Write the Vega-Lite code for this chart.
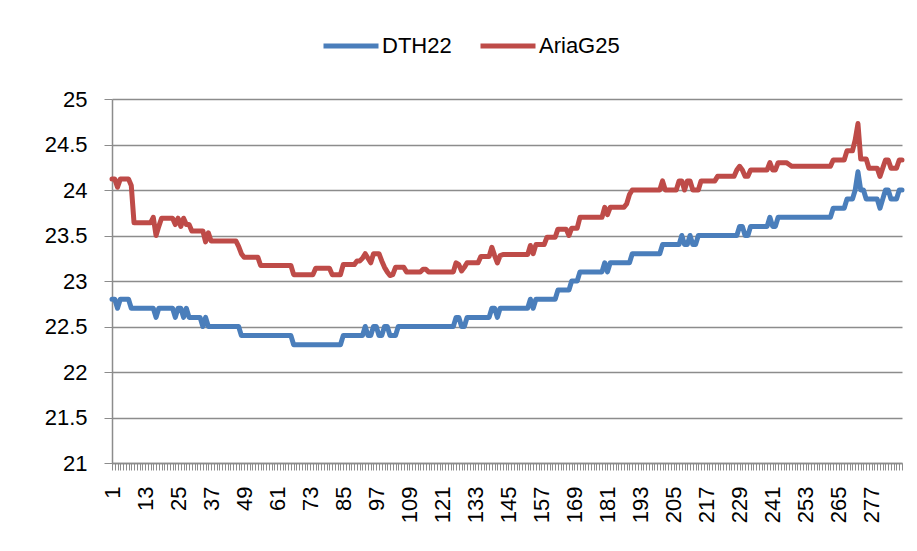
{
  "$schema": "https://vega.github.io/schema/vega-lite/v6.json",
  "autosize": "none",
  "width": 790,
  "height": 364,
  "padding": {"left": 112, "top": 99, "right": 15, "bottom": 88},
  "background": "white",
  "config": {
    "view": {"stroke": null},
    "font": "Liberation Sans",
    "axis": {"labelFont": "Liberation Sans", "labelColor": "#000000", "labelFontSize": 22}
  },
  "data": {"values": [
{"i":1,"DTH22":22.8,"AriaG25":24.12},{"i":2,"DTH22":22.8,"AriaG25":24.12},{"i":3,"DTH22":22.7,"AriaG25":24.03},{"i":4,"DTH22":22.8,"AriaG25":24.12},{"i":5,"DTH22":22.8,"AriaG25":24.12},{"i":6,"DTH22":22.8,"AriaG25":24.12},{"i":7,"DTH22":22.8,"AriaG25":24.12},{"i":8,"DTH22":22.7,"AriaG25":24.05},{"i":9,"DTH22":22.7,"AriaG25":23.64},{"i":10,"DTH22":22.7,"AriaG25":23.64},
{"i":11,"DTH22":22.7,"AriaG25":23.64},{"i":12,"DTH22":22.7,"AriaG25":23.64},{"i":13,"DTH22":22.7,"AriaG25":23.64},{"i":14,"DTH22":22.7,"AriaG25":23.64},{"i":15,"DTH22":22.7,"AriaG25":23.64},{"i":16,"DTH22":22.7,"AriaG25":23.7},{"i":17,"DTH22":22.6,"AriaG25":23.5},{"i":18,"DTH22":22.7,"AriaG25":23.6},{"i":19,"DTH22":22.7,"AriaG25":23.69},{"i":20,"DTH22":22.7,"AriaG25":23.69},
{"i":21,"DTH22":22.7,"AriaG25":23.69},{"i":22,"DTH22":22.7,"AriaG25":23.69},{"i":23,"DTH22":22.7,"AriaG25":23.69},{"i":24,"DTH22":22.6,"AriaG25":23.62},{"i":25,"DTH22":22.7,"AriaG25":23.69},{"i":26,"DTH22":22.7,"AriaG25":23.6},{"i":27,"DTH22":22.6,"AriaG25":23.69},{"i":28,"DTH22":22.7,"AriaG25":23.62},{"i":29,"DTH22":22.6,"AriaG25":23.62},{"i":30,"DTH22":22.6,"AriaG25":23.55},
{"i":31,"DTH22":22.6,"AriaG25":23.55},{"i":32,"DTH22":22.6,"AriaG25":23.55},{"i":33,"DTH22":22.6,"AriaG25":23.55},{"i":34,"DTH22":22.5,"AriaG25":23.55},{"i":35,"DTH22":22.6,"AriaG25":23.43},{"i":36,"DTH22":22.5,"AriaG25":23.53},{"i":37,"DTH22":22.5,"AriaG25":23.44},{"i":38,"DTH22":22.5,"AriaG25":23.44},{"i":39,"DTH22":22.5,"AriaG25":23.44},{"i":40,"DTH22":22.5,"AriaG25":23.44},
{"i":41,"DTH22":22.5,"AriaG25":23.44},{"i":42,"DTH22":22.5,"AriaG25":23.44},{"i":43,"DTH22":22.5,"AriaG25":23.44},{"i":44,"DTH22":22.5,"AriaG25":23.44},{"i":45,"DTH22":22.5,"AriaG25":23.44},{"i":46,"DTH22":22.5,"AriaG25":23.44},{"i":47,"DTH22":22.5,"AriaG25":23.38},{"i":48,"DTH22":22.4,"AriaG25":23.3},{"i":49,"DTH22":22.4,"AriaG25":23.26},{"i":50,"DTH22":22.4,"AriaG25":23.26},
{"i":51,"DTH22":22.4,"AriaG25":23.26},{"i":52,"DTH22":22.4,"AriaG25":23.26},{"i":53,"DTH22":22.4,"AriaG25":23.26},{"i":54,"DTH22":22.4,"AriaG25":23.26},{"i":55,"DTH22":22.4,"AriaG25":23.17},{"i":56,"DTH22":22.4,"AriaG25":23.17},{"i":57,"DTH22":22.4,"AriaG25":23.17},{"i":58,"DTH22":22.4,"AriaG25":23.17},{"i":59,"DTH22":22.4,"AriaG25":23.17},{"i":60,"DTH22":22.4,"AriaG25":23.17},
{"i":61,"DTH22":22.4,"AriaG25":23.17},{"i":62,"DTH22":22.4,"AriaG25":23.17},{"i":63,"DTH22":22.4,"AriaG25":23.17},{"i":64,"DTH22":22.4,"AriaG25":23.17},{"i":65,"DTH22":22.4,"AriaG25":23.17},{"i":66,"DTH22":22.4,"AriaG25":23.17},{"i":67,"DTH22":22.3,"AriaG25":23.07},{"i":68,"DTH22":22.3,"AriaG25":23.07},{"i":69,"DTH22":22.3,"AriaG25":23.07},{"i":70,"DTH22":22.3,"AriaG25":23.07},
{"i":71,"DTH22":22.3,"AriaG25":23.07},{"i":72,"DTH22":22.3,"AriaG25":23.07},{"i":73,"DTH22":22.3,"AriaG25":23.07},{"i":74,"DTH22":22.3,"AriaG25":23.07},{"i":75,"DTH22":22.3,"AriaG25":23.14},{"i":76,"DTH22":22.3,"AriaG25":23.14},{"i":77,"DTH22":22.3,"AriaG25":23.14},{"i":78,"DTH22":22.3,"AriaG25":23.14},{"i":79,"DTH22":22.3,"AriaG25":23.14},{"i":80,"DTH22":22.3,"AriaG25":23.14},
{"i":81,"DTH22":22.3,"AriaG25":23.07},{"i":82,"DTH22":22.3,"AriaG25":23.07},{"i":83,"DTH22":22.3,"AriaG25":23.07},{"i":84,"DTH22":22.3,"AriaG25":23.07},{"i":85,"DTH22":22.4,"AriaG25":23.18},{"i":86,"DTH22":22.4,"AriaG25":23.18},{"i":87,"DTH22":22.4,"AriaG25":23.18},{"i":88,"DTH22":22.4,"AriaG25":23.18},{"i":89,"DTH22":22.4,"AriaG25":23.18},{"i":90,"DTH22":22.4,"AriaG25":23.22},
{"i":91,"DTH22":22.4,"AriaG25":23.22},{"i":92,"DTH22":22.4,"AriaG25":23.25},{"i":93,"DTH22":22.5,"AriaG25":23.3},{"i":94,"DTH22":22.4,"AriaG25":23.25},{"i":95,"DTH22":22.4,"AriaG25":23.2},{"i":96,"DTH22":22.5,"AriaG25":23.3},{"i":97,"DTH22":22.5,"AriaG25":23.3},{"i":98,"DTH22":22.4,"AriaG25":23.3},{"i":99,"DTH22":22.4,"AriaG25":23.22},{"i":100,"DTH22":22.5,"AriaG25":23.15},
{"i":101,"DTH22":22.5,"AriaG25":23.1},{"i":102,"DTH22":22.4,"AriaG25":23.06},{"i":103,"DTH22":22.4,"AriaG25":23.07},{"i":104,"DTH22":22.4,"AriaG25":23.15},{"i":105,"DTH22":22.5,"AriaG25":23.15},{"i":106,"DTH22":22.5,"AriaG25":23.15},{"i":107,"DTH22":22.5,"AriaG25":23.15},{"i":108,"DTH22":22.5,"AriaG25":23.1},{"i":109,"DTH22":22.5,"AriaG25":23.1},{"i":110,"DTH22":22.5,"AriaG25":23.1},
{"i":111,"DTH22":22.5,"AriaG25":23.1},{"i":112,"DTH22":22.5,"AriaG25":23.1},{"i":113,"DTH22":22.5,"AriaG25":23.1},{"i":114,"DTH22":22.5,"AriaG25":23.13},{"i":115,"DTH22":22.5,"AriaG25":23.13},{"i":116,"DTH22":22.5,"AriaG25":23.1},{"i":117,"DTH22":22.5,"AriaG25":23.1},{"i":118,"DTH22":22.5,"AriaG25":23.1},{"i":119,"DTH22":22.5,"AriaG25":23.1},{"i":120,"DTH22":22.5,"AriaG25":23.1},
{"i":121,"DTH22":22.5,"AriaG25":23.1},{"i":122,"DTH22":22.5,"AriaG25":23.1},{"i":123,"DTH22":22.5,"AriaG25":23.1},{"i":124,"DTH22":22.5,"AriaG25":23.1},{"i":125,"DTH22":22.5,"AriaG25":23.1},{"i":126,"DTH22":22.6,"AriaG25":23.2},{"i":127,"DTH22":22.6,"AriaG25":23.18},{"i":128,"DTH22":22.5,"AriaG25":23.11},{"i":129,"DTH22":22.5,"AriaG25":23.15},{"i":130,"DTH22":22.6,"AriaG25":23.2},
{"i":131,"DTH22":22.6,"AriaG25":23.2},{"i":132,"DTH22":22.6,"AriaG25":23.2},{"i":133,"DTH22":22.6,"AriaG25":23.2},{"i":134,"DTH22":22.6,"AriaG25":23.2},{"i":135,"DTH22":22.6,"AriaG25":23.27},{"i":136,"DTH22":22.6,"AriaG25":23.27},{"i":137,"DTH22":22.6,"AriaG25":23.27},{"i":138,"DTH22":22.6,"AriaG25":23.27},{"i":139,"DTH22":22.7,"AriaG25":23.37},{"i":140,"DTH22":22.7,"AriaG25":23.28},
{"i":141,"DTH22":22.6,"AriaG25":23.2},{"i":142,"DTH22":22.7,"AriaG25":23.28},{"i":143,"DTH22":22.7,"AriaG25":23.29},{"i":144,"DTH22":22.7,"AriaG25":23.29},{"i":145,"DTH22":22.7,"AriaG25":23.29},{"i":146,"DTH22":22.7,"AriaG25":23.29},{"i":147,"DTH22":22.7,"AriaG25":23.29},{"i":148,"DTH22":22.7,"AriaG25":23.29},{"i":149,"DTH22":22.7,"AriaG25":23.29},{"i":150,"DTH22":22.7,"AriaG25":23.29},
{"i":151,"DTH22":22.7,"AriaG25":23.29},{"i":152,"DTH22":22.7,"AriaG25":23.29},{"i":153,"DTH22":22.8,"AriaG25":23.39},{"i":154,"DTH22":22.7,"AriaG25":23.3},{"i":155,"DTH22":22.8,"AriaG25":23.4},{"i":156,"DTH22":22.8,"AriaG25":23.4},{"i":157,"DTH22":22.8,"AriaG25":23.4},{"i":158,"DTH22":22.8,"AriaG25":23.4},{"i":159,"DTH22":22.8,"AriaG25":23.48},{"i":160,"DTH22":22.8,"AriaG25":23.48},
{"i":161,"DTH22":22.8,"AriaG25":23.48},{"i":162,"DTH22":22.8,"AriaG25":23.48},{"i":163,"DTH22":22.9,"AriaG25":23.57},{"i":164,"DTH22":22.9,"AriaG25":23.57},{"i":165,"DTH22":22.9,"AriaG25":23.57},{"i":166,"DTH22":22.9,"AriaG25":23.57},{"i":167,"DTH22":22.9,"AriaG25":23.5},{"i":168,"DTH22":23.0,"AriaG25":23.58},{"i":169,"DTH22":23.0,"AriaG25":23.58},{"i":170,"DTH22":23.0,"AriaG25":23.58},
{"i":171,"DTH22":23.1,"AriaG25":23.7},{"i":172,"DTH22":23.1,"AriaG25":23.7},{"i":173,"DTH22":23.1,"AriaG25":23.7},{"i":174,"DTH22":23.1,"AriaG25":23.7},{"i":175,"DTH22":23.1,"AriaG25":23.7},{"i":176,"DTH22":23.1,"AriaG25":23.7},{"i":177,"DTH22":23.1,"AriaG25":23.7},{"i":178,"DTH22":23.1,"AriaG25":23.7},{"i":179,"DTH22":23.1,"AriaG25":23.7},{"i":180,"DTH22":23.2,"AriaG25":23.81},
{"i":181,"DTH22":23.1,"AriaG25":23.73},{"i":182,"DTH22":23.2,"AriaG25":23.81},{"i":183,"DTH22":23.2,"AriaG25":23.81},{"i":184,"DTH22":23.2,"AriaG25":23.81},{"i":185,"DTH22":23.2,"AriaG25":23.81},{"i":186,"DTH22":23.2,"AriaG25":23.81},{"i":187,"DTH22":23.2,"AriaG25":23.81},{"i":188,"DTH22":23.2,"AriaG25":23.85},{"i":189,"DTH22":23.2,"AriaG25":23.95},{"i":190,"DTH22":23.3,"AriaG25":24.0},
{"i":191,"DTH22":23.3,"AriaG25":24.0},{"i":192,"DTH22":23.3,"AriaG25":24.0},{"i":193,"DTH22":23.3,"AriaG25":24.0},{"i":194,"DTH22":23.3,"AriaG25":24.0},{"i":195,"DTH22":23.3,"AriaG25":24.0},{"i":196,"DTH22":23.3,"AriaG25":24.0},{"i":197,"DTH22":23.3,"AriaG25":24.0},{"i":198,"DTH22":23.3,"AriaG25":24.0},{"i":199,"DTH22":23.3,"AriaG25":24.0},{"i":200,"DTH22":23.3,"AriaG25":24.0},
{"i":201,"DTH22":23.4,"AriaG25":24.1},{"i":202,"DTH22":23.4,"AriaG25":24.0},{"i":203,"DTH22":23.4,"AriaG25":24.0},{"i":204,"DTH22":23.4,"AriaG25":24.0},{"i":205,"DTH22":23.4,"AriaG25":24.0},{"i":206,"DTH22":23.4,"AriaG25":24.0},{"i":207,"DTH22":23.4,"AriaG25":24.1},{"i":208,"DTH22":23.5,"AriaG25":24.1},{"i":209,"DTH22":23.4,"AriaG25":24.0},{"i":210,"DTH22":23.4,"AriaG25":24.1},
{"i":211,"DTH22":23.5,"AriaG25":24.1},{"i":212,"DTH22":23.4,"AriaG25":24.0},{"i":213,"DTH22":23.4,"AriaG25":24.0},{"i":214,"DTH22":23.5,"AriaG25":24.0},{"i":215,"DTH22":23.5,"AriaG25":24.1},{"i":216,"DTH22":23.5,"AriaG25":24.1},{"i":217,"DTH22":23.5,"AriaG25":24.1},{"i":218,"DTH22":23.5,"AriaG25":24.1},{"i":219,"DTH22":23.5,"AriaG25":24.1},{"i":220,"DTH22":23.5,"AriaG25":24.1},
{"i":221,"DTH22":23.5,"AriaG25":24.15},{"i":222,"DTH22":23.5,"AriaG25":24.15},{"i":223,"DTH22":23.5,"AriaG25":24.15},{"i":224,"DTH22":23.5,"AriaG25":24.15},{"i":225,"DTH22":23.5,"AriaG25":24.15},{"i":226,"DTH22":23.5,"AriaG25":24.15},{"i":227,"DTH22":23.5,"AriaG25":24.15},{"i":228,"DTH22":23.5,"AriaG25":24.22},{"i":229,"DTH22":23.6,"AriaG25":24.26},{"i":230,"DTH22":23.6,"AriaG25":24.22},
{"i":231,"DTH22":23.5,"AriaG25":24.15},{"i":232,"DTH22":23.5,"AriaG25":24.15},{"i":233,"DTH22":23.6,"AriaG25":24.22},{"i":234,"DTH22":23.6,"AriaG25":24.22},{"i":235,"DTH22":23.6,"AriaG25":24.22},{"i":236,"DTH22":23.6,"AriaG25":24.22},{"i":237,"DTH22":23.6,"AriaG25":24.22},{"i":238,"DTH22":23.6,"AriaG25":24.22},{"i":239,"DTH22":23.6,"AriaG25":24.22},{"i":240,"DTH22":23.7,"AriaG25":24.3},
{"i":241,"DTH22":23.6,"AriaG25":24.22},{"i":242,"DTH22":23.6,"AriaG25":24.22},{"i":243,"DTH22":23.7,"AriaG25":24.3},{"i":244,"DTH22":23.7,"AriaG25":24.3},{"i":245,"DTH22":23.7,"AriaG25":24.3},{"i":246,"DTH22":23.7,"AriaG25":24.3},{"i":247,"DTH22":23.7,"AriaG25":24.28},{"i":248,"DTH22":23.7,"AriaG25":24.26},{"i":249,"DTH22":23.7,"AriaG25":24.26},{"i":250,"DTH22":23.7,"AriaG25":24.26},
{"i":251,"DTH22":23.7,"AriaG25":24.26},{"i":252,"DTH22":23.7,"AriaG25":24.26},{"i":253,"DTH22":23.7,"AriaG25":24.26},{"i":254,"DTH22":23.7,"AriaG25":24.26},{"i":255,"DTH22":23.7,"AriaG25":24.26},{"i":256,"DTH22":23.7,"AriaG25":24.26},{"i":257,"DTH22":23.7,"AriaG25":24.26},{"i":258,"DTH22":23.7,"AriaG25":24.26},{"i":259,"DTH22":23.7,"AriaG25":24.26},{"i":260,"DTH22":23.7,"AriaG25":24.26},
{"i":261,"DTH22":23.7,"AriaG25":24.26},{"i":262,"DTH22":23.7,"AriaG25":24.26},{"i":263,"DTH22":23.8,"AriaG25":24.33},{"i":264,"DTH22":23.8,"AriaG25":24.33},{"i":265,"DTH22":23.8,"AriaG25":24.33},{"i":266,"DTH22":23.8,"AriaG25":24.33},{"i":267,"DTH22":23.8,"AriaG25":24.33},{"i":268,"DTH22":23.9,"AriaG25":24.43},{"i":269,"DTH22":23.9,"AriaG25":24.43},{"i":270,"DTH22":23.9,"AriaG25":24.43},
{"i":271,"DTH22":24.0,"AriaG25":24.55},{"i":272,"DTH22":24.2,"AriaG25":24.73},{"i":273,"DTH22":24.0,"AriaG25":24.34},{"i":274,"DTH22":24.0,"AriaG25":24.34},{"i":275,"DTH22":23.9,"AriaG25":24.34},{"i":276,"DTH22":23.9,"AriaG25":24.24},{"i":277,"DTH22":23.9,"AriaG25":24.24},{"i":278,"DTH22":23.9,"AriaG25":24.24},{"i":279,"DTH22":23.9,"AriaG25":24.24},{"i":280,"DTH22":23.8,"AriaG25":24.15},
{"i":281,"DTH22":23.9,"AriaG25":24.24},{"i":282,"DTH22":24.0,"AriaG25":24.33},{"i":283,"DTH22":24.0,"AriaG25":24.33},{"i":284,"DTH22":23.9,"AriaG25":24.24},{"i":285,"DTH22":23.9,"AriaG25":24.24},{"i":286,"DTH22":23.9,"AriaG25":24.24},{"i":287,"DTH22":24.0,"AriaG25":24.33},{"i":288,"DTH22":24.0,"AriaG25":24.33}
  ]},
  "transform": [{"fold": ["DTH22", "AriaG25"], "as": ["series", "value"]}],
  "mark": {"type": "line", "strokeWidth": 5, "strokeCap": "round", "strokeJoin": "round"},
  "encoding": {
    "x": {
      "field": "i", "type": "ordinal",
      "scale": {"type": "point", "padding": 0},
      "axis": {
        "title": null,
        "labelAngle": -90,
        "labelExpr": "(datum.value - 1) % 12 == 0 ? datum.label : ''",
        "labelOverlap": false,
        "labelFontSize": 22,
        "labelPadding": 16,
        "tickSize": 7,
        "tickColor": "#8c8c8c",
        "domainColor": "#8c8c8c",
        "domainWidth": 1.5,
        "grid": false
      }
    },
    "y": {
      "field": "value", "type": "quantitative",
      "scale": {"domain": [21, 25], "nice": false, "zero": false},
      "axis": {
        "title": null,
        "values": [21, 21.5, 22, 22.5, 23, 23.5, 24, 24.5, 25],
        "format": "~g",
        "labelFontSize": 22,
        "grid": true,
        "gridColor": "#8c8c8c",
        "gridWidth": 1.5,
        "tickSize": 8,
        "tickColor": "#8c8c8c",
        "domainColor": "#8c8c8c",
        "domainWidth": 1.5,
        "labelPadding": 17
      }
    },
    "color": {
      "field": "series", "type": "nominal",
      "scale": {"domain": ["DTH22", "AriaG25"], "range": ["#4A7EBB", "#BE4B48"]},
      "legend": {
        "title": null,
        "orient": "none",
        "direction": "horizontal",
        "legendX": 209,
        "legendY": -83,
        "symbolType": "stroke",
        "symbolSize": 3025,
        "symbolStrokeWidth": 5,
        "labelFontSize": 22,
        "labelFont": "Liberation Sans",
        "labelColor": "#000000",
        "labelOffset": 1,
        "columnPadding": 18
      }
    }
  }
}
